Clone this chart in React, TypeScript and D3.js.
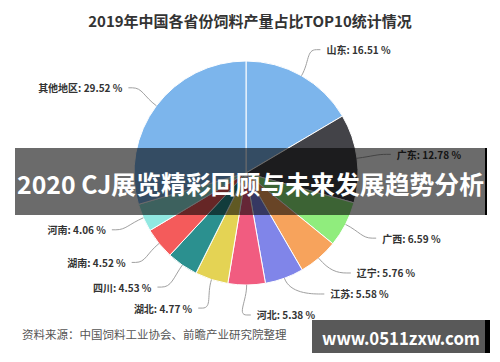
import React, { useRef, useEffect } from 'react';
import * as d3 from 'd3';

// data
const regions = ['山东', '广东', '广西', '辽宁', '江苏', '河北', '湖北', '四川', '湖南', '河南', '其他地区'];
const shares = [16.51, 12.78, 6.59, 5.76, 5.58, 5.38, 4.77, 4.53, 4.52, 4.06, 29.52];
const palette = ['#7cb5ec', '#434348', '#90ed7d', '#f7a35c', '#8085e9', '#f15c80', '#e4d354', '#2b908f', '#f45b5b', '#91e8e1'];

const titleText = '2019年中国各省份饲料产量占比TOP10统计情况';
const sourceText = '资料来源：中国饲料工业协会、前瞻产业研究院整理';
const bannerText = '2020 CJ展览精彩回顾与未来发展趋势分析';
const markText = 'www.0511zxw.com';

const W = 500;
const H = 362;
const FONT = '"Noto Sans CJK SC", "Noto Sans", sans-serif';

interface Slice {
    name: string;
    value: number;
}

const App: React.FC = () => {
    const svgRef = useRef<SVGSVGElement>(null);

    useEffect(() => {
        if (!svgRef.current) return;
        const svg = d3.select(svgRef.current);
        svg.selectAll('*').remove();

        svg.append('rect').attr('width', W).attr('height', H).attr('fill', '#ffffff');

        const cx = 246;
        const cy = 173;
        const r = 112;
        const R = r + 30;

        const data: Slice[] = regions.map((name, i) => ({ name, value: shares[i] }));
        const pie = d3.pie<Slice>().sort(null).value(d => d.value);
        const arcs = pie(data);
        const arc = d3.arc<d3.PieArcDatum<Slice>>().innerRadius(0).outerRadius(r);

        // title
        svg.append('text')
            .attr('x', 250)
            .attr('y', 20)
            .attr('text-anchor', 'middle')
            .attr('dominant-baseline', 'central')
            .attr('font-family', FONT)
            .attr('font-size', 15)
            .attr('font-weight', 'bold')
            .attr('fill', '#333')
            .text(titleText);

        const g = svg.append('g').attr('transform', `translate(${cx},${cy})`);

        g.selectAll('path.slice')
            .data(arcs)
            .enter()
            .append('path')
            .attr('class', 'slice')
            .attr('d', d => arc(d) as string)
            .attr('fill', (d, i) => palette[i % palette.length])
            .attr('stroke', '#fff')
            .attr('stroke-width', 1);

        // label layout, roughly like highcharts
        const labels = arcs.map(a => {
            const mid = (a.startAngle + a.endAngle) / 2;
            const side = mid < Math.PI ? 1 : -1;
            return { a, mid, side, y: -R * Math.cos(mid), x: 0 };
        });

        [1, -1].forEach(side => {
            const list = labels.filter(l => l.side === side).sort((p, q) => q.y - p.y);
            let prev = Infinity;
            list.forEach(l => {
                l.y = Math.min(l.y, R, prev - 21);
                prev = l.y;
            });
        });

        labels.forEach(l => {
            l.x = l.side * Math.sqrt(Math.max(0, R * R - l.y * l.y));
        });

        const lab = g.append('g');
        labels.forEach(l => {
            const ex = r * Math.sin(l.mid);
            const ey = -r * Math.cos(l.mid);
            const c1x = (r + 16) * Math.sin(l.mid);
            const c1y = -(r + 16) * Math.cos(l.mid);
            const path = d3.path();
            path.moveTo(ex, ey);
            path.bezierCurveTo(c1x, c1y, l.x - l.side * 10, l.y, l.x, l.y);
            path.lineTo(l.x + l.side * 4, l.y);
            lab.append('path')
                .attr('d', path.toString())
                .attr('fill', 'none')
                .attr('stroke', '#a0a0a0')
                .attr('stroke-width', 1);

            lab.append('text')
                .attr('x', l.x + l.side * 10)
                .attr('y', l.y)
                .attr('text-anchor', l.side > 0 ? 'start' : 'end')
                .attr('dominant-baseline', 'central')
                .attr('font-family', FONT)
                .attr('font-size', 10)
                .attr('font-weight', 'bold')
                .attr('fill', '#333')
                .text(`${l.a.data.name}: ${l.a.data.value.toFixed(2)} %`);
        });

        // source line
        svg.append('text')
            .attr('x', 22)
            .attr('y', 334)
            .attr('dominant-baseline', 'central')
            .attr('font-family', FONT)
            .attr('font-size', 11.5)
            .attr('fill', '#555')
            .text(sourceText);

        // overlay banner
        svg.append('rect')
            .attr('x', 15).attr('y', 148)
            .attr('width', 470).attr('height', 67)
            .attr('fill', 'rgba(0,0,0,0.58)');
        svg.append('rect')
            .attr('x', 485).attr('y', 148)
            .attr('width', 2).attr('height', 67)
            .attr('fill', '#000');
        svg.append('text')
            .attr('x', 17)
            .attr('y', 183)
            .attr('dominant-baseline', 'central')
            .attr('font-family', FONT)
            .attr('font-size', 25)
            .attr('font-weight', 'bold')
            .attr('fill', '#fff')
            .attr('textLength', 467)
            .attr('lengthAdjust', 'spacingAndGlyphs')
            .text(bannerText);

        // site watermark
        svg.append('rect')
            .attr('x', 312).attr('y', 320)
            .attr('width', 173).attr('height', 33)
            .attr('fill', 'rgba(0,0,0,0.65)');
        svg.append('rect')
            .attr('x', 485).attr('y', 320)
            .attr('width', 5).attr('height', 33)
            .attr('fill', '#000');
        svg.append('text')
            .attr('x', 322)
            .attr('y', 337)
            .attr('dominant-baseline', 'central')
            .attr('font-family', FONT)
            .attr('font-size', 18)
            .attr('font-weight', 'bold')
            .attr('fill', '#fff')
            .attr('textLength', 158)
            .attr('lengthAdjust', 'spacingAndGlyphs')
            .text(markText);
    }, []);

    return (
        <svg
            ref={svgRef}
            width={W}
            height={H}
            style={{ display: 'block', position: 'absolute', left: 0, top: 0 }}
        />
    );
};

export default App;
